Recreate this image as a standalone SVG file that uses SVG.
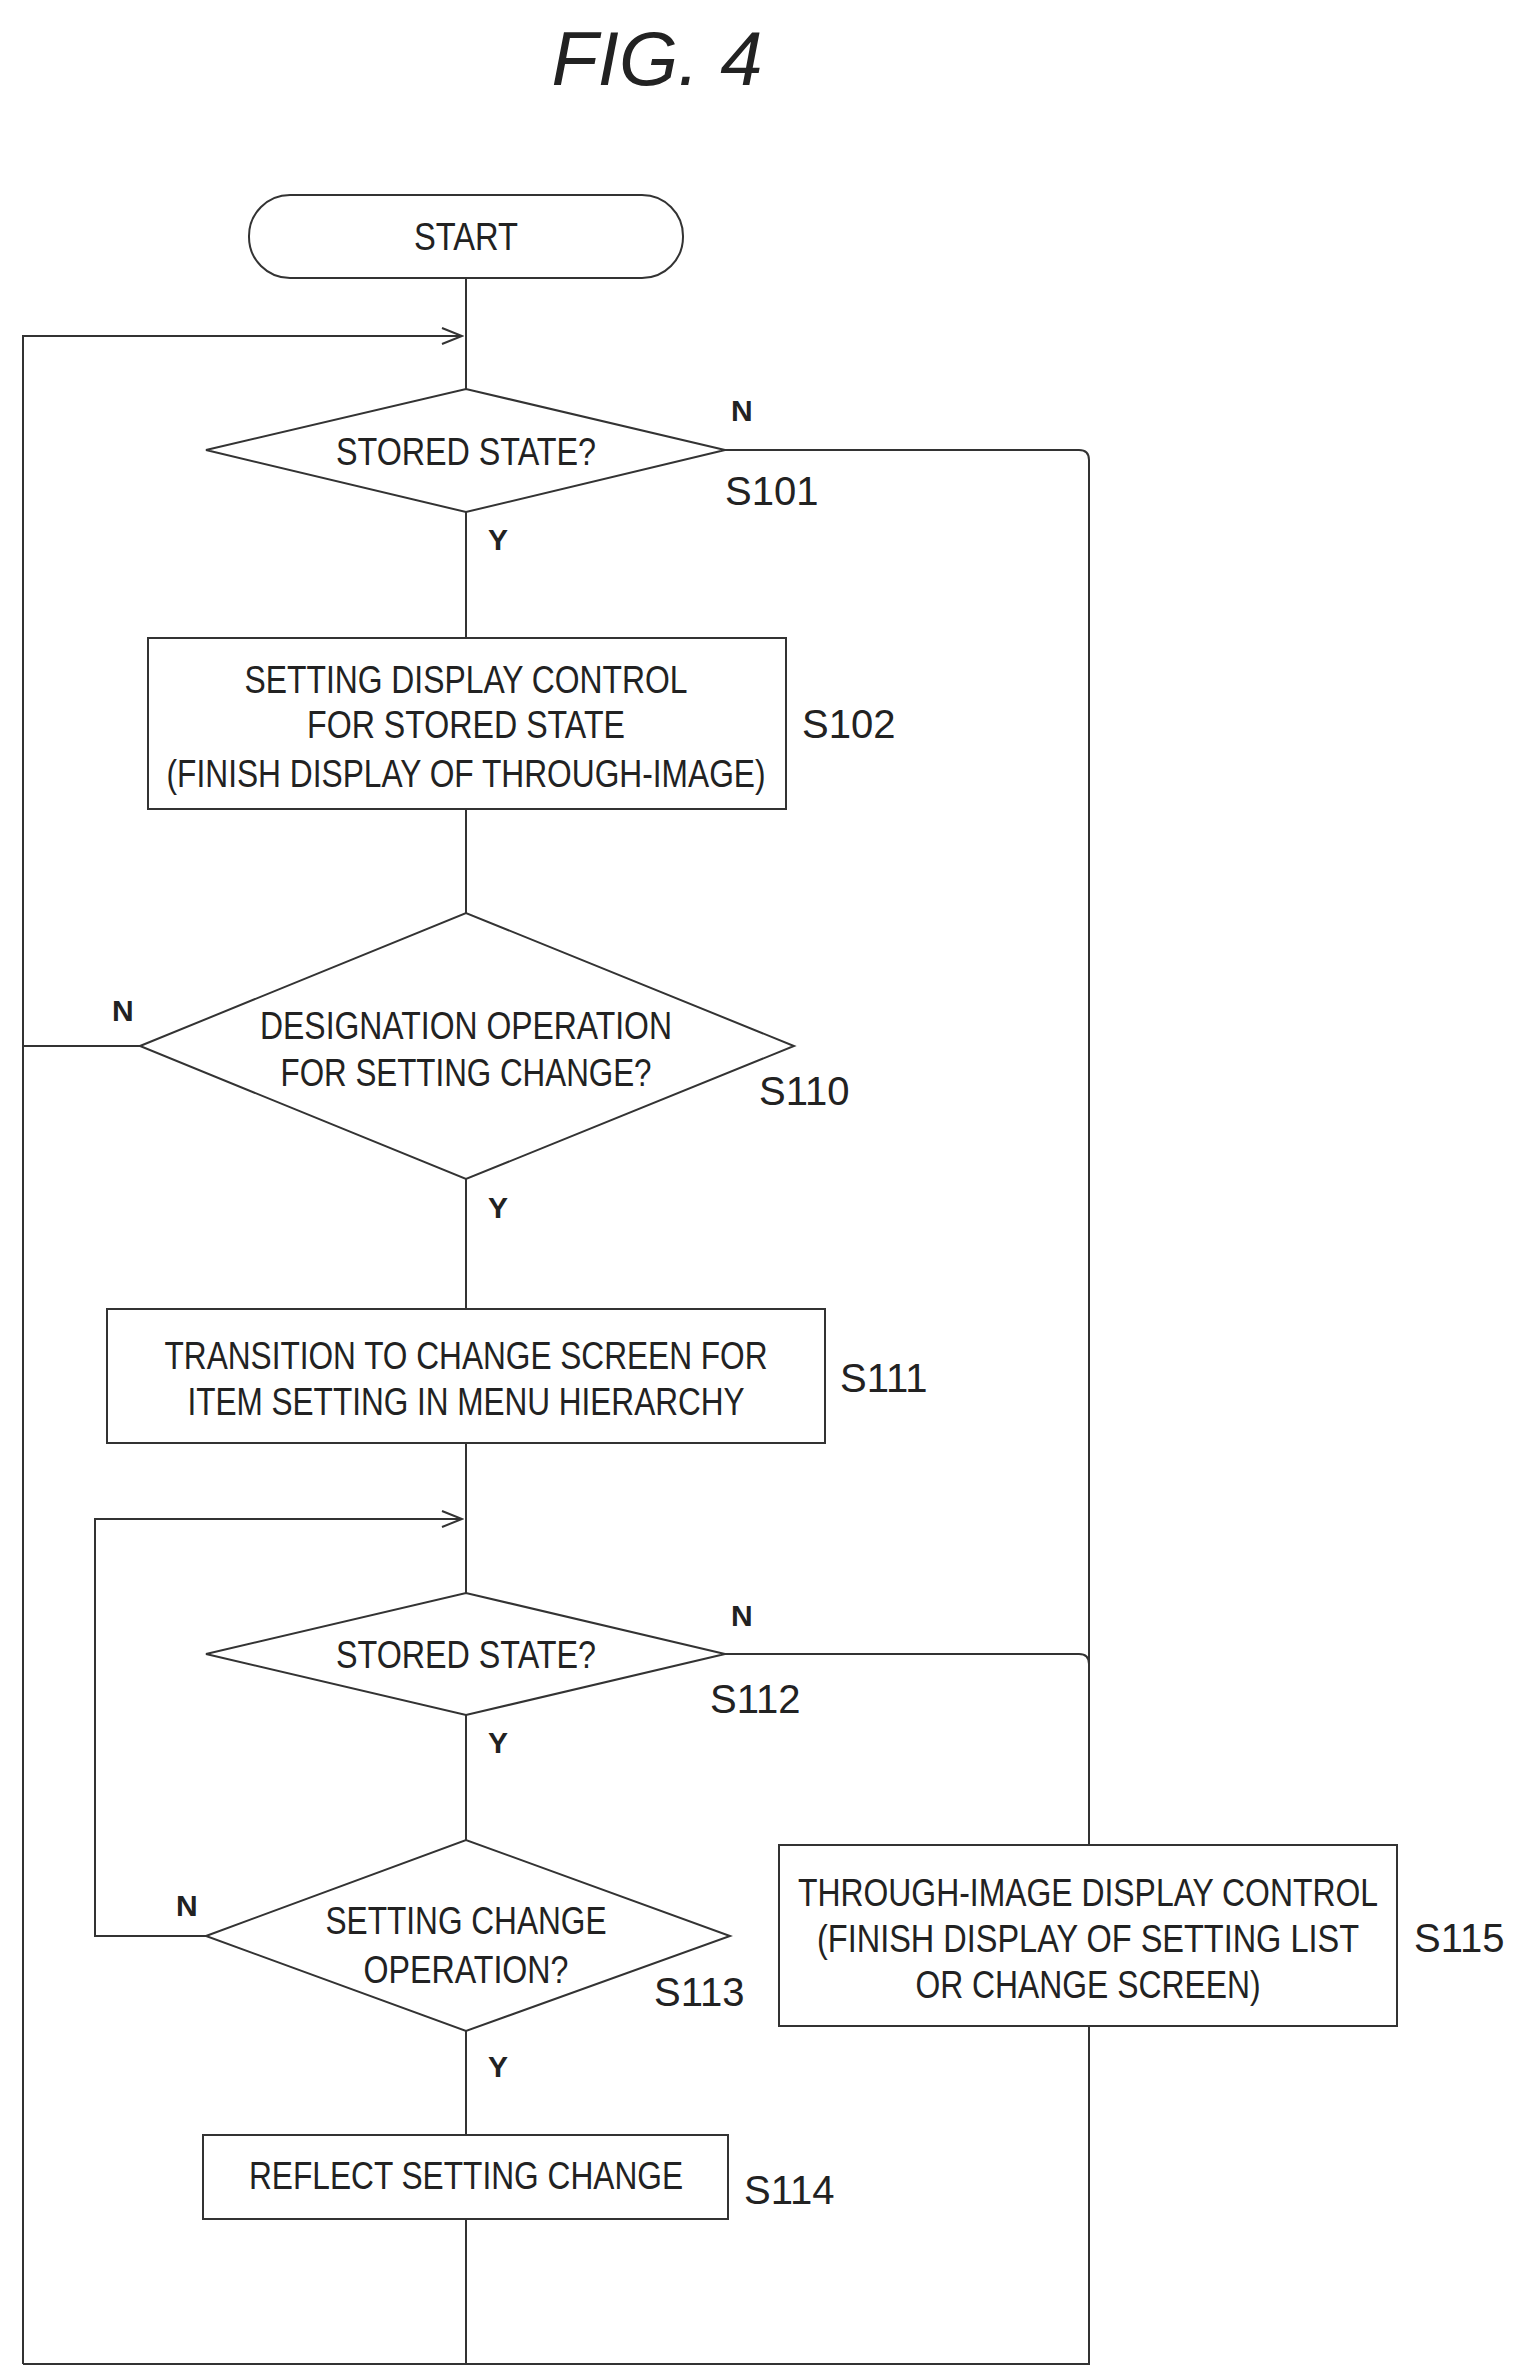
<svg xmlns="http://www.w3.org/2000/svg" width="1527" height="2377" viewBox="0 0 1527 2377">
<defs>
<style>
.s{fill:#fff;stroke:#333;stroke-width:2}
.c{fill:none;stroke:#333;stroke-width:2}
.t{font-family:"Liberation Sans",Arial,sans-serif;font-size:38px;fill:#222;text-anchor:middle}
.l{font-family:"Liberation Sans",Arial,sans-serif;font-size:40px;fill:#222}
.yn{font-family:"Liberation Sans",Arial,sans-serif;font-size:30px;font-weight:bold;fill:#222}
</style>
<marker id="a" markerWidth="24" markerHeight="20" refX="22" refY="10" orient="auto" markerUnits="userSpaceOnUse"><path d="M2,2 L22,10 L2,18" fill="none" stroke="#333" stroke-width="2"/></marker>
</defs>
<rect width="1527" height="2377" fill="#fff"/>
<text x="657" y="85" font-family="Liberation Sans,Arial,sans-serif" font-size="76" font-style="italic" text-anchor="middle" fill="#222">FIG. 4</text>
<g id="connectors">
<path class="c" d="M466,278 V2364"/>
<path class="c" d="M23,2364 V336 H462" marker-end="url(#a)"/>
<path class="c" d="M725,450 H1079 Q1089,450 1089,460 V2364 H23"/>
<path class="c" d="M140,1046 H23"/>
<path class="c" d="M725,1654 H1079 Q1089,1654 1089,1664"/>
<path class="c" d="M206,1936 H95 V1519 H462" marker-end="url(#a)"/>
</g>
<g id="start"><rect class="s" x="249" y="195" width="434" height="83" rx="41"/><text class="t" x="466" y="250" textLength="104" lengthAdjust="spacingAndGlyphs">START</text></g>
<g id="s101"><polygon class="s" points="206,450 466,389 725,450 466,512"/><text class="t" x="466" y="465" textLength="260" lengthAdjust="spacingAndGlyphs">STORED STATE?</text>
<text class="yn" x="731" y="421">N</text><text class="l" x="725" y="505">S101</text><text class="yn" x="488" y="550">Y</text></g>
<g id="s102"><rect class="s" x="148" y="638" width="638" height="171"/>
<text class="t" x="466" y="693" textLength="443" lengthAdjust="spacingAndGlyphs">SETTING DISPLAY CONTROL</text>
<text class="t" x="466" y="738" textLength="318" lengthAdjust="spacingAndGlyphs">FOR STORED STATE</text>
<text class="t" x="466" y="787" textLength="599" lengthAdjust="spacingAndGlyphs">(FINISH DISPLAY OF THROUGH-IMAGE)</text>
<text class="l" x="802" y="738">S102</text></g>
<g id="s110"><polygon class="s" points="140,1046 466,913 794,1046 466,1179"/>
<text class="t" x="466" y="1039" textLength="412" lengthAdjust="spacingAndGlyphs">DESIGNATION OPERATION</text>
<text class="t" x="466" y="1086" textLength="371" lengthAdjust="spacingAndGlyphs">FOR SETTING CHANGE?</text>
<text class="yn" x="112" y="1021">N</text><text class="l" x="759" y="1105">S110</text><text class="yn" x="488" y="1218">Y</text></g>
<g id="s111"><rect class="s" x="107" y="1309" width="718" height="134"/>
<text class="t" x="466" y="1369" textLength="603" lengthAdjust="spacingAndGlyphs">TRANSITION TO CHANGE SCREEN FOR</text>
<text class="t" x="466" y="1415" textLength="557" lengthAdjust="spacingAndGlyphs">ITEM SETTING IN MENU HIERARCHY</text>
<text class="l" x="840" y="1392">S111</text></g>
<g id="s112"><polygon class="s" points="206,1654 466,1593 725,1654 466,1715"/><text class="t" x="466" y="1668" textLength="260" lengthAdjust="spacingAndGlyphs">STORED STATE?</text>
<text class="yn" x="731" y="1626">N</text><text class="l" x="710" y="1713">S112</text><text class="yn" x="488" y="1753">Y</text></g>
<g id="s113"><polygon class="s" points="206,1936 466,1840 730,1936 466,2031"/>
<text class="t" x="466" y="1934" textLength="281" lengthAdjust="spacingAndGlyphs">SETTING CHANGE</text>
<text class="t" x="466" y="1983" textLength="205" lengthAdjust="spacingAndGlyphs">OPERATION?</text>
<text class="yn" x="176" y="1916">N</text><text class="l" x="654" y="2006">S113</text><text class="yn" x="488" y="2077">Y</text></g>
<g id="s114"><rect class="s" x="203" y="2135" width="525" height="84"/>
<text class="t" x="466" y="2189" textLength="434" lengthAdjust="spacingAndGlyphs">REFLECT SETTING CHANGE</text>
<text class="l" x="744" y="2204">S114</text></g>
<g id="s115"><rect class="s" x="779" y="1845" width="618" height="181"/>
<text class="t" x="1088" y="1906" textLength="580" lengthAdjust="spacingAndGlyphs">THROUGH-IMAGE DISPLAY CONTROL</text>
<text class="t" x="1088" y="1952" textLength="542" lengthAdjust="spacingAndGlyphs">(FINISH DISPLAY OF SETTING LIST</text>
<text class="t" x="1088" y="1998" textLength="345" lengthAdjust="spacingAndGlyphs">OR CHANGE SCREEN)</text>
<text class="l" x="1414" y="1952">S115</text></g>
</svg>
